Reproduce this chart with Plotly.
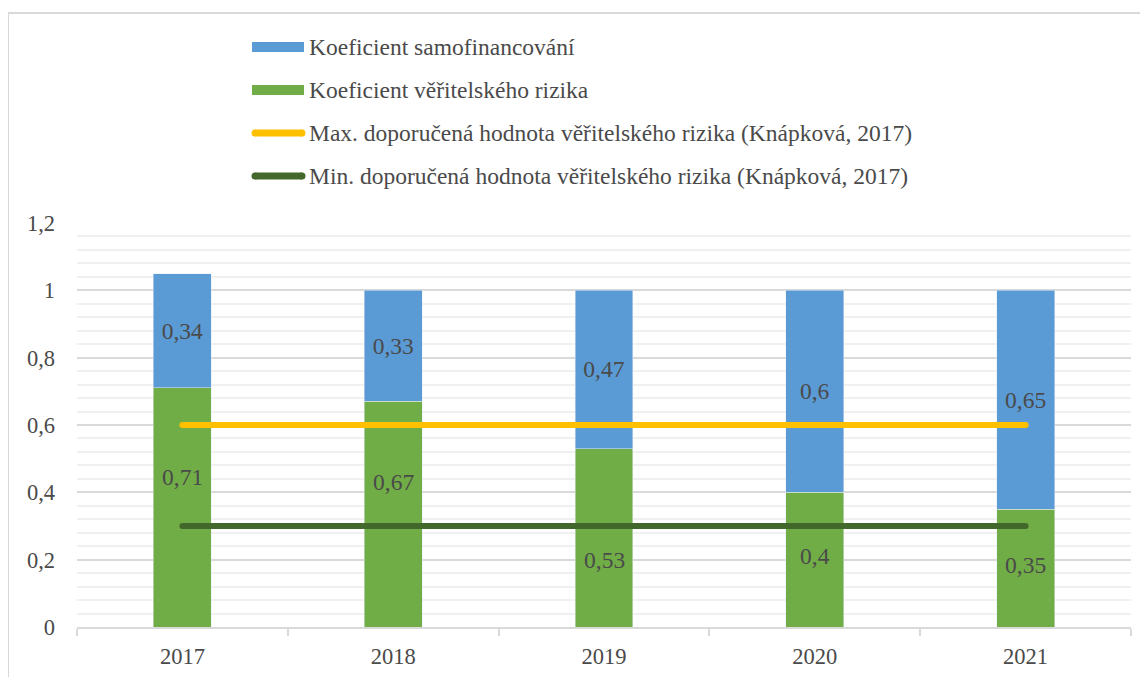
import plotly.graph_objects as go

years = ["2017", "2018", "2019", "2020", "2021"]
samofinancovani = [0.34, 0.33, 0.47, 0.60, 0.65]
veritelske_riziko = [0.71, 0.67, 0.53, 0.40, 0.35]
max_doporucena = [0.6, 0.6, 0.6, 0.6, 0.6]
min_doporucena = [0.3, 0.3, 0.3, 0.3, 0.3]
# vertical positions of the green data labels (manually placed in the original)
green_label_y = [0.445, 0.43, 0.20, 0.21, 0.185]

names = [
    "Koeficient samofinancování",
    "Koeficient věřitelského rizika",
    "Max. doporučená hodnota věřitelského rizika (Knápková, 2017)",
    "Min. doporučená hodnota věřitelského rizika (Knápková, 2017)",
]

BLUE = "#5B9BD5"
GREEN = "#70AD47"
YELLOW = "#FFC000"
DKGREEN = "#43682B"
TXT = "#4A4A4A"
FONT = "Liberation Serif"

# the page body adds an 8px margin; work in reference-pixel coordinates
OFF = 8
W, H = 1148 - OFF, 677 - OFF
PLOT_L, PLOT_R, PLOT_T, PLOT_B = 77, 1131, 223, 627  # reference pixels
L = PLOT_L - OFF
R = W - (PLOT_R - OFF)
T = PLOT_T - OFF
B = H - (PLOT_B - OFF)
PW, PH = W - L - R, H - T - B


def px_x(x):
    return (x - OFF - L) / PW


def px_y(y):
    return (H - B - (y - OFF)) / PH


def fmt(v):
    return f"{v:g}".replace(".", ",")


fig = go.Figure()
fig.add_trace(go.Bar(
    x=years, y=veritelske_riziko, name=names[1], marker_color=GREEN,
    width=0.275, showlegend=False, hoverinfo="skip",
))
fig.add_trace(go.Bar(
    x=years, y=samofinancovani, name=names[0], marker_color=BLUE,
    width=0.275, showlegend=False,
    text=[fmt(v) for v in samofinancovani], textposition="inside",
    insidetextanchor="middle", textangle=0,
    textfont=dict(family=FONT, size=23.5, color=TXT),
))
fig.add_trace(go.Scatter(
    x=years, y=max_doporucena, name=names[2], mode="lines+markers",
    line=dict(color=YELLOW, width=6), marker=dict(color=YELLOW, size=6),
    showlegend=False,
))
fig.add_trace(go.Scatter(
    x=years, y=min_doporucena, name=names[3], mode="lines+markers",
    line=dict(color=DKGREEN, width=6), marker=dict(color=DKGREEN, size=6),
    showlegend=False,
))

annotations = []
for i, (v, ly) in enumerate(zip(veritelske_riziko, green_label_y)):
    annotations.append(dict(
        x=i, y=ly, xref="x", yref="y", text=fmt(v), showarrow=False,
        font=dict(family=FONT, size=23.5, color=TXT),
    ))

# manual legend
shapes = []
legend_rows = [47, 90, 133, 176]
legend_colors = [BLUE, GREEN, YELLOW, DKGREEN]
for i, (name, col, ry) in enumerate(zip(names, legend_colors, legend_rows)):
    if i < 2:
        shapes.append(dict(type="rect", xref="paper", yref="paper",
                           x0=px_x(252), x1=px_x(304), y0=px_y(ry + 5), y1=px_y(ry - 5),
                           fillcolor=col, line=dict(width=0), layer="above"))
    else:
        shapes.append(dict(type="line", xref="paper", yref="paper",
                           x0=px_x(255), x1=px_x(302), y0=px_y(ry), y1=px_y(ry),
                           line=dict(color=col, width=7), layer="above"))
        for cx in (255, 302):
            shapes.append(dict(type="circle", xref="paper", yref="paper",
                               x0=px_x(cx - 3.5), x1=px_x(cx + 3.5),
                               y0=px_y(ry + 3.5), y1=px_y(ry - 3.5),
                               fillcolor=col, line=dict(width=0), layer="above"))
    annotations.append(dict(
        x=px_x(307), y=px_y(ry), xref="paper", yref="paper", text=name,
        showarrow=False, xanchor="left", yanchor="middle",
        font=dict(family=FONT, size=23.5, color=TXT),
    ))

# outer frame (partially cropped in the original)
shapes.append(dict(type="rect", xref="paper", yref="paper",
                   x0=px_x(8), x1=px_x(1200), y0=px_y(720), y1=px_y(13),
                   line=dict(color="#D9D9D9", width=2), fillcolor="rgba(0,0,0,0)",
                   layer="below"))

fig.update_layout(
    width=W, height=H,
    margin=dict(l=L, r=R, t=T, b=B, autoexpand=False),
    barmode="stack",
    paper_bgcolor="white", plot_bgcolor="white",
    separators=", ",
    font=dict(family=FONT, size=22, color=TXT),
    annotations=annotations,
    shapes=shapes,
    showlegend=False,
)
fig.update_yaxes(
    range=[0, 1.2], tickvals=[0, 0.2, 0.4, 0.6, 0.8, 1.0, 1.2],
    ticktext=["0", "0,2", "0,4", "0,6", "0,8", "1", "1,2"],
    showgrid=True, gridcolor="#D9D9D9", gridwidth=1.5,
    minor=dict(tick0=0, dtick=0.04, showgrid=True, gridcolor="#F0F0F0", gridwidth=1.5),
    zeroline=False, showline=False, ticks="", ticklabelstandoff=21,
    tickfont=dict(family=FONT, size=22.5, color=TXT),
)
fig.update_xaxes(
    type="category", range=[-0.5, 4.5], autorange=False,
    showline=True, linecolor="#D9D9D9", linewidth=2,
    ticks="outside", tickson="boundaries", ticklen=7, tickcolor="#D9D9D9", tickwidth=2,
    showgrid=False, ticklabelstandoff=8,
    tickfont=dict(family=FONT, size=22.5, color=TXT),
)

fig.write_html("out.html")
